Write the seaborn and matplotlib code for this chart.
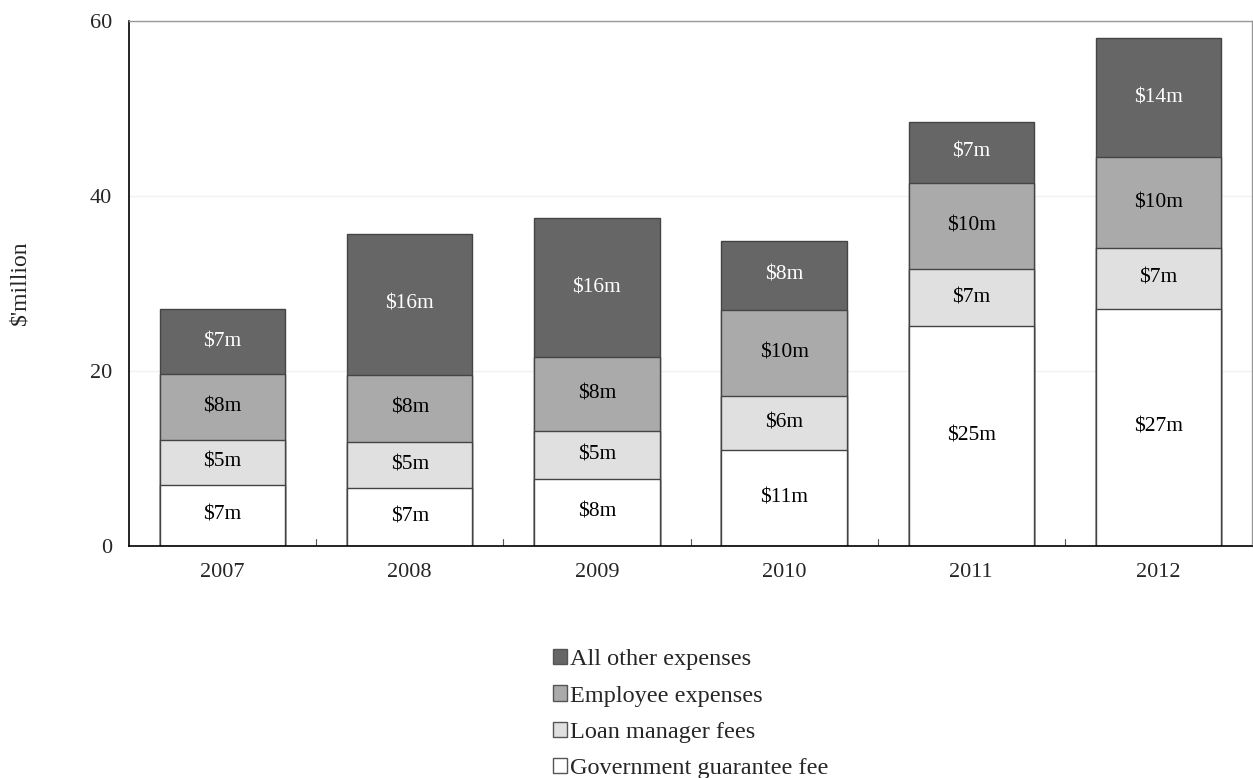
import matplotlib.pyplot as plt
import pandas as pd
import seaborn as sns
from matplotlib.patches import Patch

years = ["2007", "2008", "2009", "2010", "2011", "2012"]
gov_fee = [7.0, 6.6, 7.7, 11.0, 25.1, 27.1]
loan_fees = [5.1, 5.3, 5.4, 6.2, 6.6, 7.0]
employee = [7.55, 7.65, 8.45, 9.8, 9.8, 10.3]
other = [7.4, 16.1, 15.9, 7.9, 7.0, 13.7]

series_names = [
    "Government guarantee fee",
    "Loan manager fees",
    "Employee expenses",
    "All other expenses",
]
colors = ["#ffffff", "#e0e0e0", "#aaaaaa", "#666666"]
text_colors = ["black", "black", "black", "white"]

sns.set_theme(style="white")
plt.rcParams["font.family"] = ["Liberation Serif", "DejaVu Serif"]

df = pd.DataFrame(
    {"year": years, series_names[0]: gov_fee, series_names[1]: loan_fees,
     series_names[2]: employee, series_names[3]: other}
)
cum = df[series_names].cumsum(axis=1)

fig = plt.figure(figsize=(12.53, 7.78), dpi=100)
ax = fig.add_axes([129 / 1253, 232 / 778, 1123 / 1253, 525 / 778])

# draw cumulative totals from tallest to shortest so segments stack
for i in range(len(series_names) - 1, -1, -1):
    sns.barplot(
        x=df["year"], y=cum[series_names[i]], color=colors[i], width=0.67,
        edgecolor="#444444", linewidth=1.0, saturation=1, ax=ax,
    )

for j in range(len(years)):
    base = 0
    for i, name in enumerate(series_names):
        v = df[name][j]
        ax.text(j, base + v / 2, f"${v:.0f}m", ha="center", va="center",
                fontsize=15.5, color=text_colors[i])
        base += v

ax.set_ylim(0, 60)
ax.set_xlim(-0.5, len(years) - 0.5)
ax.set_yticks([0, 20, 40, 60])
ax.set_xlabel("")
ax.set_ylabel("")
fig.text(20 / 1253, 1 - 283 / 778, "$'million", rotation=90, ha="center",
         va="center", fontsize=17)
ax.yaxis.grid(True, color="#f2f2f2", linewidth=1)
ax.set_axisbelow(True)
ax.tick_params(axis="y", labelsize=16, length=4, direction="in", pad=12)
ax.tick_params(axis="x", labelsize=16, length=0, pad=12)
for x in range(len(years) - 1):
    ax.plot([x + 0.5, x + 0.5], [0, 0.8], color="#555555", linewidth=0.8)

for side in ["left", "bottom"]:
    ax.spines[side].set_color("black")
    ax.spines[side].set_linewidth(1.2)
for side in ["top", "right"]:
    ax.spines[side].set_color("#999999")
    ax.spines[side].set_linewidth(1.0)

handles = [Patch(facecolor=colors[i], edgecolor="#555555", label=series_names[i])
           for i in range(len(series_names) - 1, -1, -1)]
fig.legend(handles=handles, loc="upper left", bbox_to_anchor=(531 / 1253, 1 - 627 / 778),
           frameon=False, fontsize=17.5, handlelength=0.6, handleheight=0.6,
           handletextpad=0.1, labelspacing=0.62)

fig.savefig("out.png", dpi=100)
